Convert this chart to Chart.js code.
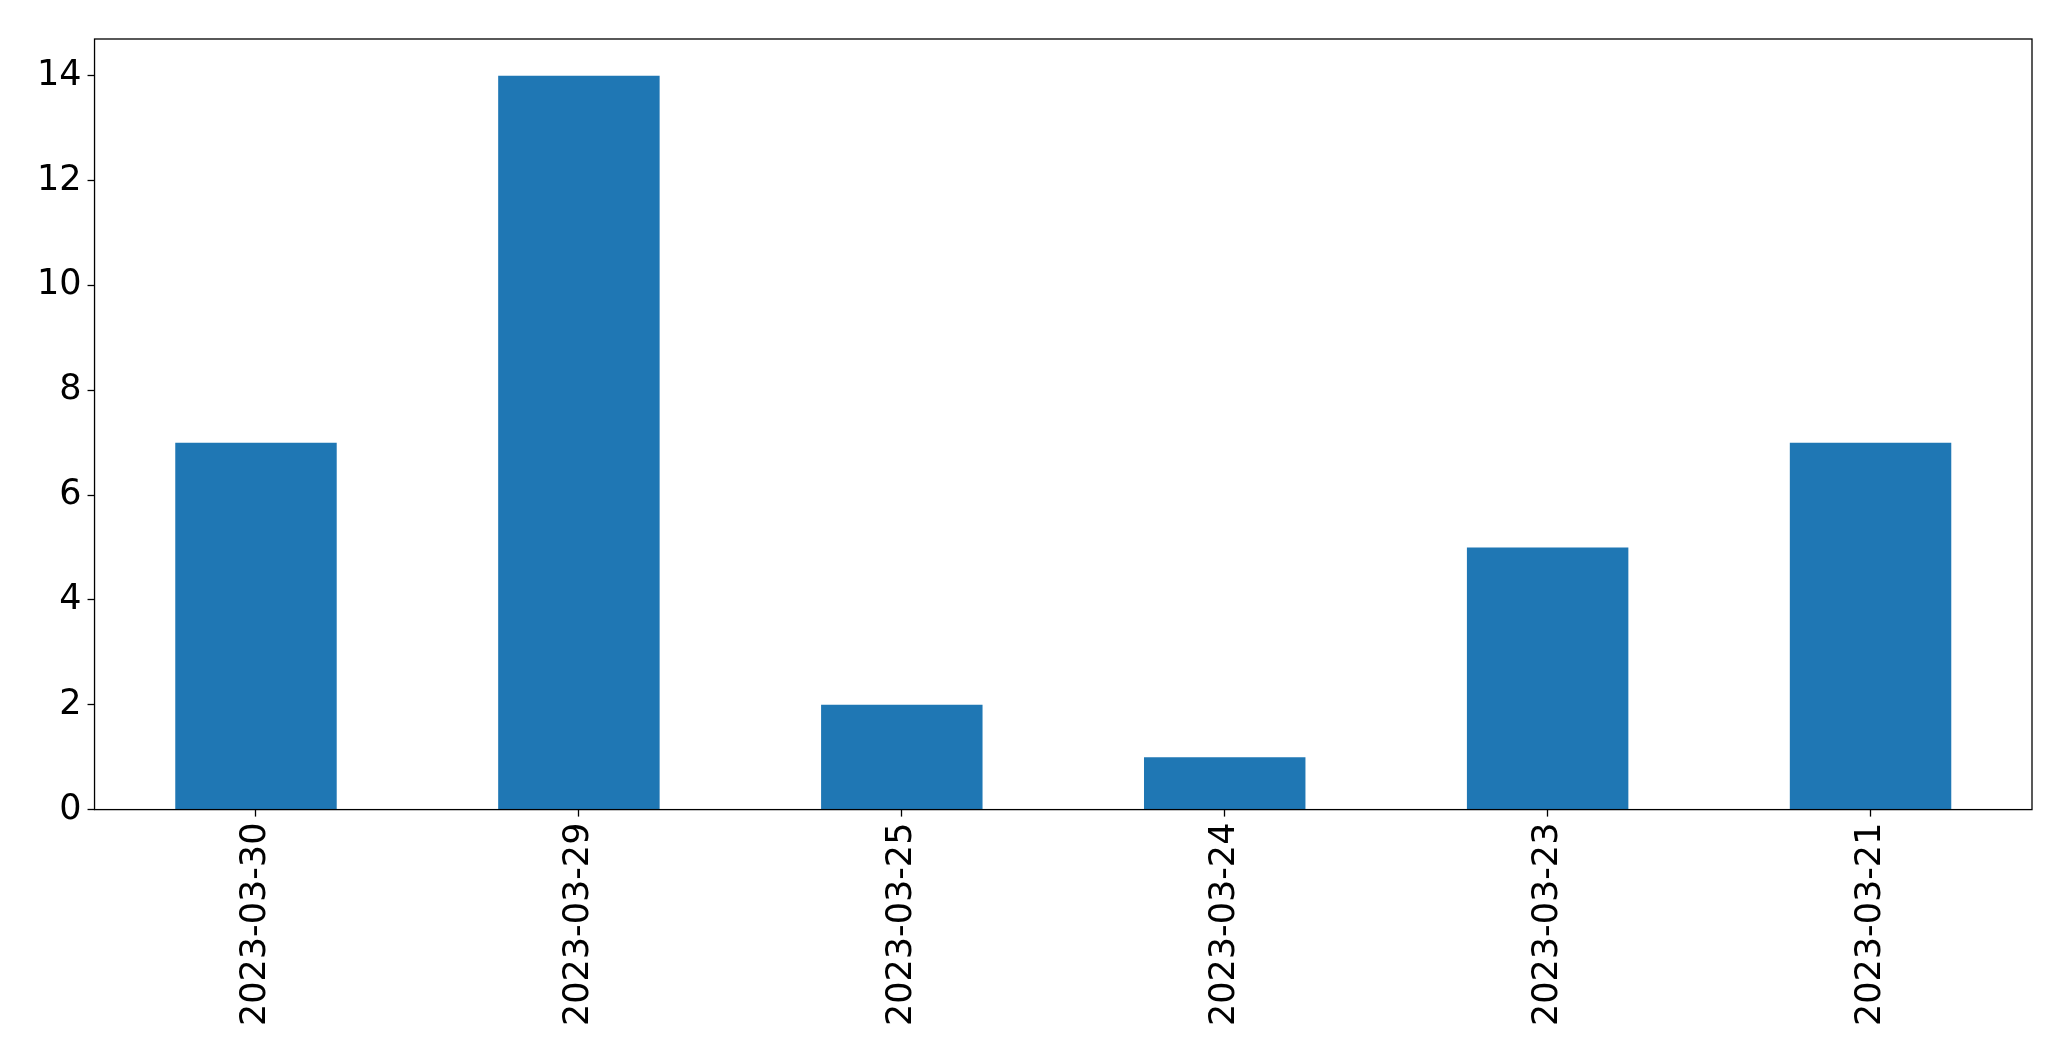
<!DOCTYPE html>
<html>
<head>
<meta charset="utf-8">
<script src="https://cdn.jsdelivr.net/npm/chart.js@4.4.0/dist/chart.umd.min.js"></script>
<style>
    html, body { margin: 0; padding: 0; background: #fff; }
    #wrap { width: 2071px; height: 1061px; }
</style>
</head>
<body>
<div id="wrap"><canvas id="myChart"></canvas></div>
<script>
// Data
const dates = ['2023-03-30', '2023-03-29', '2023-03-25', '2023-03-24', '2023-03-23', '2023-03-21'];
const counts = [7, 14, 2, 1, 5, 7];
const yTicks = [0, 2, 4, 6, 8, 10, 12, 14];

// Frame round the plot area (matplotlib style box)
const frameBox = {
    id: 'frameBox',
    afterDraw(chart) {
        const { ctx, chartArea: a } = chart;
        ctx.save();
        ctx.strokeStyle = '#000';
        ctx.lineWidth = 1.3;
        ctx.strokeRect(a.left, a.top, a.right - a.left, a.bottom - a.top);
        ctx.restore();
    }
};

const ctx = document.getElementById('myChart').getContext('2d');
const myChart = new Chart(ctx, {
    type: 'bar',
    data: {
        labels: dates,
        datasets: [{
            data: counts,
            backgroundColor: '#1f77b4',
            borderWidth: 0,
            barPercentage: 0.5,
            categoryPercentage: 1.0
        }]
    },
    options: {
        responsive: true,
        maintainAspectRatio: false,
        animation: false,
        layout: { padding: { top: 39, right: 39, left: 31, bottom: 29 } },
        plugins: {
            legend: { display: false },
            tooltip: { enabled: false }
        },
        scales: {
            x: {
                offset: true,
                grid: { offset: false, drawOnChartArea: false, drawTicks: true, tickLength: 7, color: '#000', tickWidth: 1.3 },
                border: { display: false },
                ticks: {
                    color: '#000',
                    font: { family: 'DejaVu Sans', size: 35 },
                    minRotation: 90,
                    maxRotation: 90,
                    padding: 6
                }
            },
            y: {
                min: 0,
                max: 14.7,
                afterBuildTicks: (axis) => {
                    axis.ticks = yTicks.map(v => ({ value: v }));
                },
                grid: { drawOnChartArea: false, drawTicks: true, tickLength: 7, color: '#000', tickWidth: 1.3 },
                border: { display: false },
                ticks: {
                    color: '#000',
                    font: { family: 'DejaVu Sans', size: 35 },
                    padding: 6
                }
            }
        }
    },
    plugins: [frameBox]
});
</script>
</body>
</html>
